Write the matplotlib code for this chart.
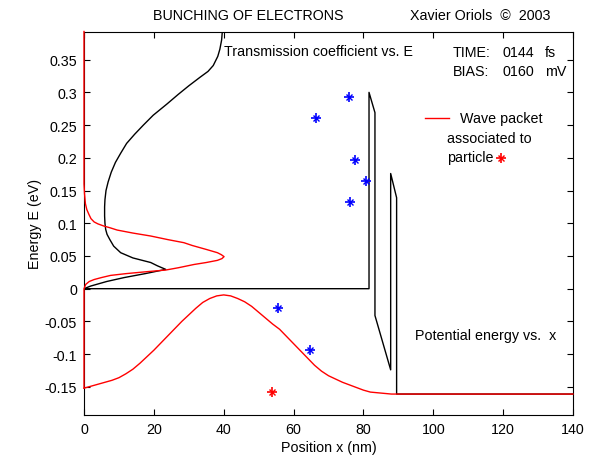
import matplotlib
matplotlib.use("Agg")
import matplotlib.pyplot as plt
import numpy as np

plt.rcParams['font.family'] = ['Liberation Sans', 'DejaVu Sans']
FS = 10.3
plt.rcParams['font.size'] = FS

# Potential energy profile (double barrier under bias)
pot_x = [0, 81.6, 81.6, 83.3, 83.3, 87.8, 87.8, 89.5, 89.5, 140]
pot_E = [0, 0, 0.300, 0.269, -0.041, -0.124, 0.176, 0.139, -0.161, -0.161]

# Transmission coefficient vs E (scaled to x-axis)
trans_T = [0, 1.9, 6.5, 11.5, 17.5, 23.4, 21.0, 19.1, 14.0, 10.5, 8.5, 7.4, 6.6, 6.2,
           6.0, 5.9, 5.9, 6.0, 6.3, 6.9, 7.8, 9.0, 10.5, 12.2, 14.5, 17.0, 19.8, 23.7,
           27.0, 30.0, 33.2, 35.5, 37.0, 38.3, 38.9, 39.4, 39.6]
trans_E = [0, 0.004, 0.011, 0.017, 0.023, 0.0295, 0.035, 0.040, 0.047, 0.055, 0.065,
           0.075, 0.083, 0.0907, 0.100, 0.111, 0.125, 0.136, 0.150, 0.163, 0.178, 0.193,
           0.207, 0.222, 0.236, 0.250, 0.265, 0.282, 0.297, 0.310, 0.323, 0.332, 0.341,
           0.355, 0.366, 0.380, 0.393]

# Wave packet energy spectrum (scaled to x-axis)
spec_A = [0, 0, 0.5, 1.5, 2.9, 5.0, 7.6, 12.0, 18.0, 23.4, 27.0, 31.5, 35.0, 38.2, 39.5,
          40.1, 39.3, 38.2, 35.0, 31.0, 28.6, 24.0, 19.1, 14.0, 9.5, 7.5, 5.7, 4.0, 2.9,
          2.0, 1.4, 0.8, 0.4, 0.15, 0, 0]
spec_E = [-0.152, 0, 0.0066, 0.011, 0.014, 0.017, 0.0203, 0.023, 0.026, 0.0285, 0.032,
          0.037, 0.040, 0.0433, 0.046, 0.049, 0.052, 0.055, 0.060, 0.066, 0.0703, 0.075,
          0.0805, 0.085, 0.0896, 0.093, 0.0957, 0.099, 0.102, 0.107, 0.1136, 0.121,
          0.130, 0.145, 0.160, 0.393]

# Wave packet in position
wp_x = [0, 2, 4, 6, 8, 10, 12, 14, 16, 18, 20, 22, 24, 26, 28, 30, 32, 34, 36, 38, 40,
        42, 44, 46, 48, 50, 52, 54, 56, 58, 60, 62, 64, 66, 68, 70, 72, 74, 76, 78, 80,
        82, 84, 86, 88, 89.5, 140]
wp_E = [-0.152, -0.149, -0.146, -0.143, -0.140, -0.136, -0.130, -0.123, -0.114, -0.104,
        -0.094, -0.083, -0.072, -0.061, -0.050, -0.040, -0.030, -0.021, -0.015, -0.011,
        -0.0095, -0.011, -0.015, -0.020, -0.027, -0.036, -0.045, -0.054, -0.062, -0.073,
        -0.084, -0.095, -0.106, -0.117, -0.126, -0.133, -0.138, -0.143, -0.147, -0.151,
        -0.155, -0.158, -0.159, -0.160, -0.161, -0.161, -0.161]

# Particles
blue_x = [66.3, 76.0, 77.6, 80.6, 76.2, 55.5, 64.8]
blue_E = [0.2604, 0.2936, 0.196, 0.1646, 0.132, -0.0296, -0.0938]
red_x = [53.7]
red_E = [-0.1585]

W, H = 596, 460
fig = plt.figure(figsize=(W / 100, H / 100), dpi=100)
ax = fig.add_axes([84 / W, 1 - 416 / H, (573 - 84) / W, (416 - 32.5) / H])

ax.plot(pot_x, pot_E, color='k', lw=1, zorder=2)
ax.plot(trans_T, trans_E, color='k', lw=1, zorder=2)
ax.plot(spec_A, spec_E, color='r', lw=1, zorder=3, clip_on=False)
ax.plot(wp_x, wp_E, color='r', lw=1, zorder=3, clip_on=False)


def stars(x, y, c):
    ax.plot(x, y, ls='none', marker='+', ms=7, mew=1.2, color=c, zorder=4)
    ax.plot(x, y, ls='none', marker='x', ms=4, mew=1.0, color=c, zorder=4)


stars(blue_x, blue_E, 'b')
stars(red_x, red_E, 'r')

ax.set_xlim(0, 140)
ax.set_ylim(-0.193, 0.393)
ax.set_xticks(np.arange(0, 141, 20))
ax.set_yticks([-0.15, -0.1, -0.05, 0, 0.05, 0.1, 0.15, 0.2, 0.25, 0.3, 0.35])
ax.set_yticklabels(['-0.15', '-0.1', '-0.05', '0', '0.05', '0.1', '0.15', '0.2',
                    '0.25', '0.3', '0.35'])
ax.tick_params(direction='in', top=True, right=True, length=4.5, width=0.8,
               labelsize=FS, pad=5)
for s in ax.spines.values():
    s.set_linewidth(0.8)

ax.set_xlabel('Position x (nm)', fontsize=FS, labelpad=3)
ax.set_ylabel('Energy E (eV)', fontsize=FS, labelpad=2)

# Annotations
ax.text(40.1, 0.363, 'Transmission coefficient vs. E', va='center', ha='left')
ax.text(105.6, 0.361, 'TIME:', va='center', ha='left')
ax.text(119.7, 0.361, '0144', va='center', ha='left')
ax.text(132.0, 0.361, 'fs', va='center', ha='left')
ax.text(105.6, 0.332, 'BIAS:', va='center', ha='left')
ax.text(119.7, 0.332, '0160', va='center', ha='left')
ax.text(132.0, 0.332, 'mV', va='center', ha='left')
ax.plot([97.6, 104.5], [0.2615, 0.2615], color='r', lw=1)
ax.text(107.6, 0.2615, 'Wave packet', va='center', ha='left')
ax.text(103.9, 0.2297, 'associated to', va='center', ha='left')
ax.text(103.9, 0.2006, 'particle', va='center', ha='left')
stars([119.4], [0.199], 'r')
ax.text(94.8, -0.070, 'Potential energy vs.  x', va='center', ha='left')

fig.text(248 / W, 1 - 16 / H, 'BUNCHING OF ELECTRONS', ha='center', va='center', fontsize=FS)
fig.text(410 / W, 1 - 16 / H, 'Xavier Oriols  \u00a9  2003', ha='left', va='center', fontsize=FS)

fig.savefig('out.png', dpi=100)
